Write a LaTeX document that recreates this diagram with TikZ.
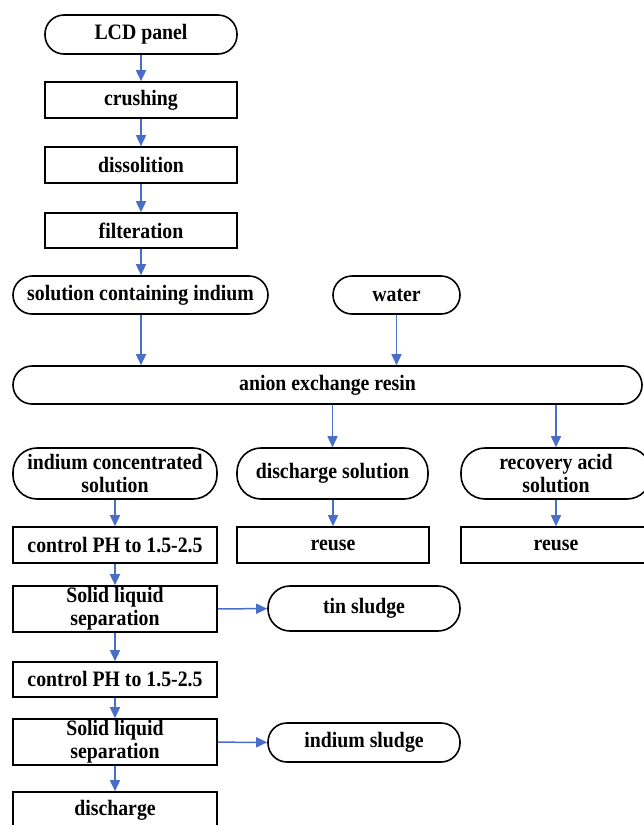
\documentclass[tikz,border=0pt]{standalone}
\usepackage{fontspec}
\setmainfont{Liberation Serif}[FakeStretch=0.9]
\usetikzlibrary{arrows.meta}
\definecolor{arrowblue}{RGB}{72,110,200}
\tikzset{
  box/.style={draw=black, line width=1.6pt, fill=white, align=center, inner sep=0pt,
    font=\fontsize{22}{23}\selectfont\bfseries},
  stadium/.style={box, rounded corners=#1},
  flow/.style={draw=arrowblue, line width=1.5pt, -{Triangle[length=11pt,width=10pt]}}
}
\begin{document}
\begin{tikzpicture}[x=1pt,y=-1pt]
\useasboundingbox (0,0) rectangle (643,825);
% main column
\node[stadium=19, minimum width=192, minimum height=39] (lcd) at (141,34.5) {LCD panel};
\node[box, minimum width=192, minimum height=36] (crush) at (141,100) {crushing};
\node[box, minimum width=192, minimum height=36] (diss) at (141,165) {dissolition};
\node[box, minimum width=192, minimum height=35] (filt) at (141,230.5) {filteration};
\node[stadium=19, minimum width=255, minimum height=38] (sol) at (140.5,295) {solution containing indium};
\node[stadium=19, minimum width=127, minimum height=38] (water) at (396.5,295) {water};
\node[stadium=19, minimum width=629, minimum height=38] (anion) at (327.5,385) {anion exchange resin};
% third row
\node[stadium=24, minimum width=204, minimum height=51] (indc) at (115,473.5) {indium concentrated\\solution};
\node[stadium=24, minimum width=191, minimum height=51] (dsol) at (332.5,473.5) {discharge solution};
\node[stadium=24, minimum width=190, minimum height=51] (racid) at (556,473.5) {recovery acid\\solution};
\node[box, minimum width=192, minimum height=36] (reuse1) at (333,545) {reuse};
\node[box, minimum width=190, minimum height=36] (reuse2) at (556,545) {reuse};
% left column lower
\node[box, minimum width=204, minimum height=36] (ph1) at (115,545) {control PH to 1.5-2.5};
\node[box, minimum width=204, minimum height=46] (sl1) at (115,609) {Solid liquid\\separation};
\node[stadium=22, minimum width=192, minimum height=45] (tin) at (364,608.5) {tin sludge};
\node[box, minimum width=204, minimum height=35] (ph2) at (115,679.5) {control PH to 1.5-2.5};
\node[box, minimum width=204, minimum height=46] (sl2) at (115,742) {Solid liquid\\separation};
\node[stadium=19, minimum width=192, minimum height=39] (isl) at (364,742.5) {indium sludge};
\node[box, minimum width=204, minimum height=36] (dis) at (115,810) {discharge};
% connectors
\draw[flow] (lcd) -- (crush);
\draw[flow] (crush) -- (diss);
\draw[flow] (diss) -- (filt);
\draw[flow] (filt) -- (filt.south |- sol.north);
\draw[flow] (sol.south -| filt.south) -- (filt.south |- anion.north);
\draw[flow] (water) -- (water.south |- anion.north);
\draw[flow] (dsol.north |- anion.south) -- (dsol);
\draw[flow] (racid.north |- anion.south) -- (racid);
\draw[flow] (dsol.south -| reuse1.north) -- (reuse1);
\draw[flow] (racid) -- (reuse2);
\draw[flow] (indc) -- (ph1);
\draw[flow] (ph1) -- (sl1);
\draw[flow] (sl1) -- (ph2);
\draw[flow] (ph2) -- (sl2);
\draw[flow] (sl2) -- (dis);
\draw[flow] (sl1) -- (tin);
\draw[flow] (sl2) -- (isl);
\end{tikzpicture}
\end{document}
